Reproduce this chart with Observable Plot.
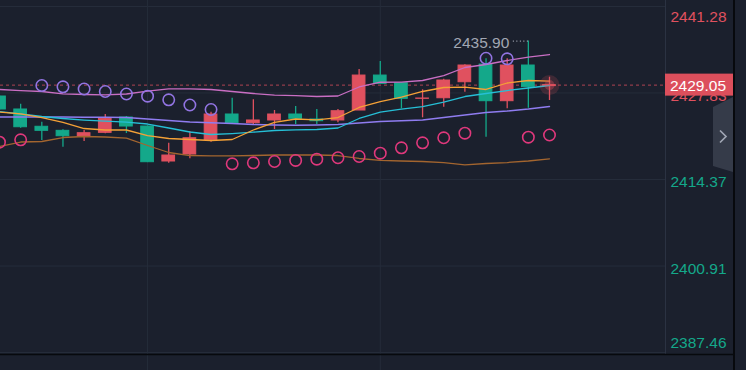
<!DOCTYPE html>
<html><head><meta charset="utf-8">
<script src="https://cdn.jsdelivr.net/npm/d3@7"></script>
<script src="https://cdn.jsdelivr.net/npm/@observablehq/plot@0.6"></script>
<style>
html,body{margin:0;padding:0;background:#1b202d;}
#wrap{position:relative;width:746px;height:370px;overflow:hidden;background:#1b202d;}
svg{display:block;}
</style></head><body><div id="wrap"></div>
<script>
// ---- data ----
const open  = [2427.28,2425.26,2422.57,2421.94,2421.06,2421.63,2424.01,2422.61,2417.17,2418.26,2420.54,2424.48,2423.13,2423.55,2424.48,2423.70,2423.55,2425.10,2430.54,2429.35,2426.92,2427.01,2429.50,2432.25,2426.55,2432.10,2428.90];
const close = [2425.26,2422.50,2421.94,2421.10,2421.57,2423.81,2422.61,2417.06,2418.10,2420.79,2424.48,2423.13,2423.55,2424.48,2423.81,2423.44,2424.99,2430.54,2429.25,2426.92,2426.97,2429.77,2432.10,2426.55,2432.10,2428.73,2429.05];
const high  = [2427.40,2426.08,2423.28,2422.10,2421.99,2424.48,2424.17,2422.70,2420.02,2421.84,2424.84,2427.01,2426.77,2425.10,2425.72,2425.26,2425.26,2431.48,2432.72,2429.35,2428.32,2429.97,2432.20,2433.14,2433.14,2435.90,2430.28];
const low   = [2425.10,2422.35,2420.44,2419.39,2420.28,2421.48,2421.52,2417.00,2416.91,2417.59,2420.17,2423.10,2422.77,2422.15,2422.92,2422.92,2423.19,2425.10,2429.25,2425.37,2423.97,2425.61,2427.95,2420.95,2425.37,2425.46,2426.66];
const bandUpper = [2428.37,2428.21,2428.06,2427.70,2427.59,2427.54,2427.67,2428.13,2428.48,2428.48,2428.37,2428.06,2427.75,2427.51,2427.43,2427.28,2427.36,2428.76,2429.50,2429.53,2429.77,2430.54,2431.79,2432.26,2432.88,2433.39,2433.81];
const maFast  = [2424.87,2424.59,2424.01,2423.24,2422.30,2422.07,2422.07,2421.21,2420.75,2420.59,2420.44,2420.59,2422.07,2423.24,2423.78,2423.66,2424.01,2425.57,2426.50,2427.20,2428.06,2428.68,2428.73,2428.37,2429.38,2429.77,2429.66];
const maMid   = [2424.95,2424.56,2424.17,2423.86,2423.62,2423.44,2423.31,2423.00,2422.38,2421.76,2421.37,2421.52,2421.73,2421.99,2422.10,2422.15,2422.38,2423.86,2424.84,2425.33,2425.72,2426.42,2427.28,2427.75,2428.21,2428.60,2428.99];
const maSlow  = [2424.09,2424.09,2424.09,2424.09,2424.06,2424.06,2424.01,2423.78,2423.55,2423.31,2423.19,2423.08,2422.92,2422.85,2422.82,2422.85,2422.92,2423.16,2423.39,2423.50,2423.62,2424.01,2424.40,2424.79,2425.02,2425.33,2425.72];
const maLong  = [2419.50,2420.20,2420.28,2420.90,2421.06,2420.98,2420.82,2419.66,2418.57,2418.10,2418.03,2418.03,2418.10,2418.18,2418.18,2418.18,2418.10,2417.64,2417.33,2417.25,2417.17,2417.01,2416.63,2416.86,2417.01,2417.25,2417.59];
const sar     = [2420.17,2420.54,2428.99,2428.79,2428.45,2428.06,2427.67,2427.33,2426.77,2425.96,2425.26,2416.81,2416.97,2417.17,2417.33,2417.53,2417.75,2417.95,2418.46,2419.30,2420.08,2420.86,2421.57,2433.23,2433.14,2420.95,2421.29];
const priceTicks = [2441.28, 2427.83, 2414.37, 2400.91, 2387.46];
const timeGridIdx = [7, 18];
const lastPrice = 2429.05;
const peakIdx = 25;
const peakValue = 2435.90;

// ---- styling ----
const UP = "#e0515f", DOWN = "#14a88a", BG = "#1b202d", GRID = "#252c3a";
const W = 746, H = 370, PLOT_RIGHT = 665;
const X_RANGE = [-1, 549], Y_RANGE = [352, 6];

const n = open.length;
const candles = open.map((o, i) => ({i, open: o, close: close[i], high: high[i], low: low[i]}));
const col = d => d.close >= d.open ? UP : DOWN;
const sarPts = sar.map((v, i) => ({i, v, above: v > close[i]}));
const yMid = (priceTicks[0] + priceTicks[priceTicks.length - 1]) / 2;
const tickColor = v => v > yMid ? UP : DOWN;
const midTicks = priceTicks.slice(1, -1);
const font = "'Liberation Sans', Arial, sans-serif";

const plot = Plot.plot({
  width: W, height: H,
  marginLeft: 0, marginRight: W - PLOT_RIGHT, marginTop: 0, marginBottom: 0,
  x: {domain: [0, n - 1], range: X_RANGE, axis: null},
  y: {domain: [priceTicks[priceTicks.length - 1], priceTicks[0]], range: Y_RANGE, axis: null},
  color: {type: "identity"},
  style: {background: BG, fontFamily: font, overflow: "hidden"},
  marks: [
    Plot.ruleY(priceTicks, {stroke: GRID, strokeWidth: 1}),
    Plot.ruleX(timeGridIdx, {stroke: GRID, strokeWidth: 1}),
    Plot.ruleY([lastPrice], {stroke: "#b04453", strokeWidth: 1, strokeDasharray: "3,3"}),
    Plot.ruleX(candles, {x: "i", y1: "low", y2: "high", stroke: col, strokeWidth: 1.3}),
    Plot.rect(candles, {x1: d => d.i - 0.3, x2: d => d.i + 0.3, y1: "open", y2: "close", fill: col, stroke: col, strokeWidth: 1}),
    Plot.lineY(maLong, {stroke: "#a3652f", strokeWidth: 1.3}),
    Plot.lineY(maSlow, {stroke: "#8f7cf0", strokeWidth: 1.4}),
    Plot.lineY(maMid, {stroke: "#26bfd6", strokeWidth: 1.3}),
    Plot.lineY(maFast, {stroke: "#f5a137", strokeWidth: 1.3}),
    Plot.lineY(bandUpper, {stroke: "#c96ec3", strokeWidth: 1.3}),
    Plot.dot(sarPts, {x: "i", y: "v", r: 5.7, fill: "none", strokeWidth: 1.6, stroke: d => d.above ? "#9274e2" : "#e0387c"}),
    Plot.dot([lastPrice], {x: n - 1, y: d => d, r: 10, fill: UP, fillOpacity: 0.18}),
    Plot.dot([lastPrice], {x: n - 1, y: d => d, r: 5, fill: UP, fillOpacity: 0.35}),
    Plot.ruleY([peakValue], {x1: peakIdx, x2: peakIdx, insetLeft: -15, stroke: "#a4a9b5", strokeWidth: 1.4, strokeDasharray: "1,2.5"}),
    Plot.text([peakValue], {x: peakIdx, y: d => d, text: d => d.toFixed(2), dx: -19, dy: 2, textAnchor: "end", fill: "#a2a7b3", fontSize: 15.5}),
    Plot.text(midTicks, {y: d => d, text: d => d.toFixed(2), frameAnchor: "right", dx: 5, dy: 3, textAnchor: "start", fill: tickColor, fontSize: 15.5}),
    Plot.text([priceTicks[0]], {y: d => d, text: d => d.toFixed(2), frameAnchor: "right", dx: 5, dy: 10.5, textAnchor: "start", fill: tickColor, fontSize: 15.5}),
    Plot.text([priceTicks[priceTicks.length - 1]], {y: d => d, text: d => d.toFixed(2), frameAnchor: "right", dx: 5, dy: -9.5, textAnchor: "start", fill: tickColor, fontSize: 15.5})
  ]
});

document.getElementById("wrap").appendChild(plot);

// chart chrome: price-axis border, panel borders, last-price tag, collapse tab
const svg = d3.select(plot);
const yS = d3.scaleLinear([priceTicks[priceTicks.length - 1], priceTicks[0]], Y_RANGE);
svg.append("line").attr("x1", PLOT_RIGHT + 0.5).attr("x2", PLOT_RIGHT + 0.5).attr("y1", 0).attr("y2", 354)
  .attr("stroke", "#2b3242").attr("stroke-width", 1);
svg.append("line").attr("x1", 0).attr("x2", 734).attr("y1", 354.5).attr("y2", 354.5)
  .attr("stroke", "#07090d").attr("stroke-width", 1.5);
svg.append("line").attr("x1", 734).attr("x2", 734).attr("y1", 0).attr("y2", H)
  .attr("stroke", "#07090d").attr("stroke-width", 2);
const ly = yS(lastPrice);
svg.append("rect").attr("x", PLOT_RIGHT).attr("y", ly - 11).attr("width", 68).attr("height", 22).attr("fill", "#dc4f5c");
svg.append("text").attr("x", PLOT_RIGHT + 5).attr("y", ly + 0.5).attr("dy", "0.35em")
  .attr("text-anchor", "start")
  .attr("fill", "#ffffff").attr("font-size", 15.5).attr("font-family", font).text(lastPrice.toFixed(2));
svg.append("polygon").attr("points", "713,107 733,97 733,172 713,166").attr("fill", "#353b49");
svg.append("polyline").attr("points", "720,130.5 726,136.5 720,142.5").attr("fill", "none")
  .attr("stroke", "#a0a6b3").attr("stroke-width", 1.7);
</script>
</body></html>
